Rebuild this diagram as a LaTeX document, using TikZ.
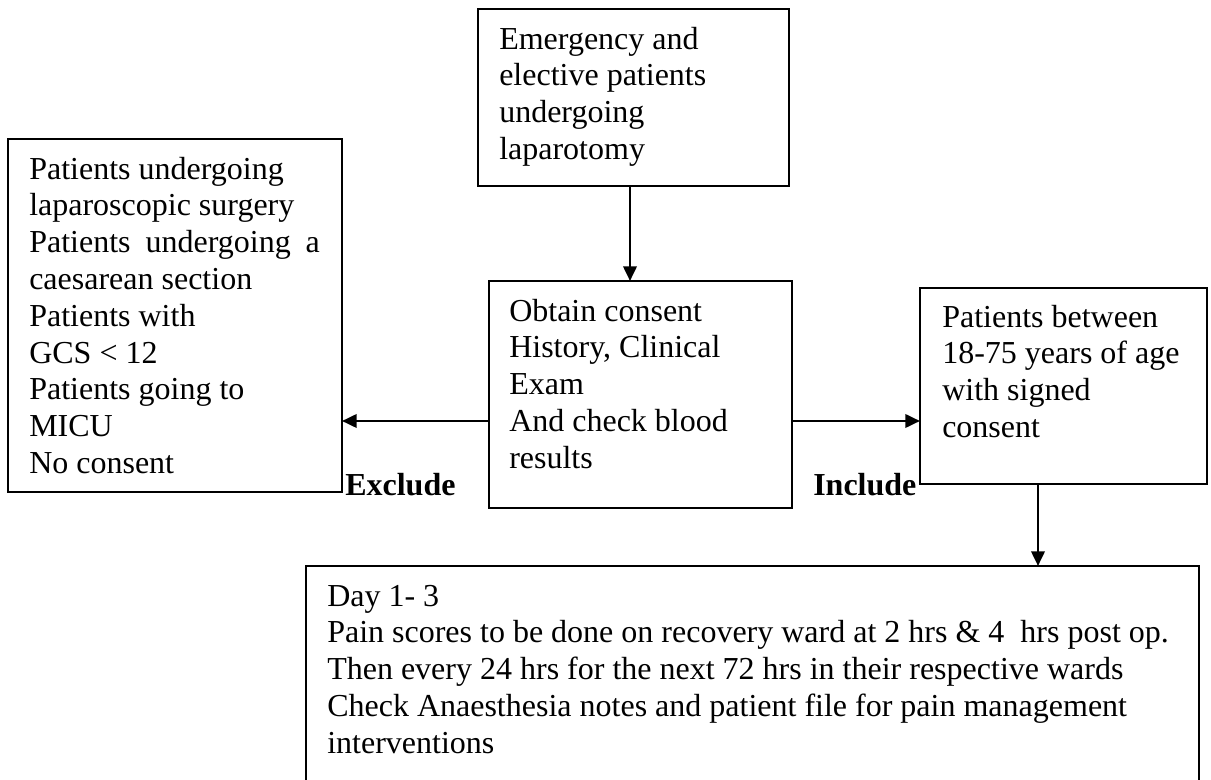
\documentclass[tikz,border=0pt]{standalone}
\usepackage{fontspec}
\setmainfont{Liberation Serif}
\usetikzlibrary{arrows.meta}
\newcommand{\boxtext}[2]{\parbox[t]{#1}{\raggedright\strut #2}}
\begin{document}
\begin{tikzpicture}[x=0.75pt,y=-0.75pt,
  box/.style={draw, line width=0.9pt, inner sep=0pt, outer sep=0pt, anchor=north west},
  txt/.style={inner sep=0pt, anchor=north west, font=\fontsize{24}{27.6}\selectfont},
  lbl/.style={inner sep=0pt, anchor=base west, font=\fontsize{24}{27.6}\selectfont\bfseries},
  arr/.style={line width=2pt, -{Triangle[length=11pt,width=10pt]}}]
\useasboundingbox (0,0) rectangle (1211,780);
\clip (0,0) rectangle (1211,780);
% boxes
\node[box, minimum width=233.25pt, minimum height=132.75pt] (top) at (478,9) {};
\node[box, minimum width=250.5pt, minimum height=264.75pt] (left) at (8,139) {};
\node[box, minimum width=227.25pt, minimum height=170.25pt] (mid) at (489,281) {};
\node[box, minimum width=215.25pt, minimum height=147pt] (right) at (920,288) {};
\node[box, minimum width=669.75pt, minimum height=180pt] (bot) at (306,566) {};
% texts
\node[txt] (toptxt) at (499,23.1) {\boxtext{225pt}{Emergency and\\elective patients\\undergoing\\laparotomy}};
\node[txt] (lefttxt) at (29,153.1) {\boxtext{230pt}{Patients undergoing\\laparoscopic surgery\\\makebox[218pt][s]{Patients undergoing a}\\caesarean section\\Patients with\\GCS {<} 12\\Patients going to\\MICU\\No consent}};
\node[txt] (midtxt) at (509,295.1) {\boxtext{215pt}{Obtain consent\\History, Clinical\\Exam\\And check blood\\results}};
\node[txt] (righttxt) at (942,301.1) {\boxtext{200pt}{Patients between\\18-75 years of age\\with signed\\consent}};
\node[txt] (bottxt) at (327,580.1) {\boxtext{700pt}{Day 1- 3\\Pain scores to be done on recovery ward at 2 hrs \& 4~ hrs post op.\\Then every 24 hrs for the next 72 hrs in their respective wards\\Check Anaesthesia notes and patient file for pain management\\interventions}};
% labels
\node[lbl] (excl) at (345,496) {Exclude};
\node[lbl] (incl) at (813,496) {Include};
% connectors
\coordinate (ax) at (630,0);
\coordinate (ly) at (0,421);
\coordinate (dx) at (1038,0);
\draw[arr] (top.south -| ax) -- (mid.north -| ax);
\draw[arr] (mid.west |- ly) -- (left.east |- ly);
\draw[arr] (mid.east |- ly) -- (right.west |- ly);
\draw[arr] (right.south -| dx) -- (bot.north -| dx);
\end{tikzpicture}
\end{document}
